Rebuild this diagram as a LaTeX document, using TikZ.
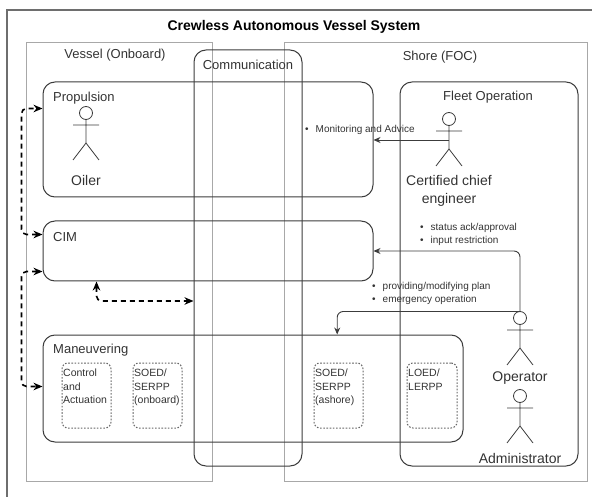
\documentclass[tikz,border=0pt]{standalone}
\usepackage{fontspec}
\setmainfont{Liberation Sans}
\usetikzlibrary{arrows.meta,calc}
\definecolor{framegray}{HTML}{6E6E6E}
\definecolor{zonegray}{HTML}{A8A8A8}
\definecolor{boxgray}{HTML}{3C3C3C}
\definecolor{textgray}{HTML}{333333}
\definecolor{partgray}{HTML}{666666}
\tikzset{
  actor/.pic={
    \draw[boxgray,line width=0.8pt] (0,0) circle[radius=6.5]
      (0,6.5) -- (0,30) (-13,12) -- (13,12) (-13,47) -- (0,30) -- (13,47);
    \coordinate (-top) at (0,-6.5);
    \coordinate (-mid) at (0,21);
  }
}
\begin{document}
\begin{tikzpicture}
  [x=1pt,y=-1pt,
   zone/.style={draw=zonegray,line width=0.8pt},
   box/.style={draw=boxgray,rounded corners=12pt,line width=1pt},
   part/.style={draw=partgray,dash pattern=on 1.6pt off 1.6pt,line width=1pt,rounded corners=6pt,minimum width=49,minimum height=65},
   lbl/.style={text=textgray,font=\fontsize{13}{15}\selectfont,inner sep=0pt},
   who/.style={text=textgray,font=\fontsize{14}{18}\selectfont,inner sep=0pt,align=center},
   note/.style={text=textgray,font=\fontsize{10}{13}\selectfont,inner sep=0pt,align=left},
   parttext/.style={text=textgray,font=\fontsize{10.5}{13.5}\selectfont,inner sep=1.5pt,align=left,anchor=north west,yshift=-5pt},
   link/.style={->,>={Stealth[length=7pt,width=6pt]},boxgray,line width=0.9pt,rounded corners=6pt},
   dashlink/.style={<->,>={Stealth[length=9pt,width=7.5pt]},black,line width=1.6pt,dash pattern=on 5pt off 4pt,rounded corners=5pt}]
  \useasboundingbox (0,0) rectangle (592,497);
  \draw[framegray,line width=1.2pt] (7,497) -- (7,10) -- (592,10);
  \node[font=\bfseries\fontsize{14}{16}\selectfont] (title) at (294,27) {Crewless Autonomous Vessel System};
  % zones
  \node[zone,minimum width=186,minimum height=439] (vessel) at (119,261.5) {};
  \node[zone,minimum width=303,minimum height=439] (shore) at (435.5,261.5) {};
  \node[lbl] (vessellbl) at (115,55) {Vessel (Onboard)};
  \node[lbl] (shorelbl) at (440,57) {Shore (FOC)};
  % functions
  \node[box,minimum width=108,minimum height=416] (comm) at (248,258) {};
  \node[box,minimum width=330,minimum height=115] (prop) at (208,139.5) {};
  \node[box,minimum width=330,minimum height=60] (cim) at (208,251) {};
  \node[box,minimum width=420,minimum height=107] (man) at (253,388.5) {};
  \node[box,minimum width=178,minimum height=384] (fleet) at (489,274) {};
  \node[lbl] (commlbl) at (248,65) {Communication};
  \node[lbl,anchor=west] (proplbl) at (53,98) {Propulsion};
  \node[lbl,anchor=west] (cimlbl) at (53,237) {CIM};
  \node[lbl,anchor=west] (manlbl) at (53,350) {Maneuvering};
  \node[lbl] (fleetlbl) at (488,97) {Fleet Operation};
  % sub-functions
  \node[part] (ctrl) at (86.5,395.5) {};
  \node[part] (soedon) at (157.5,395.5) {};
  \node[part] (soedash) at (338.5,395.5) {};
  \node[part,minimum width=50] (loed) at (432,395.5) {};
  \node[parttext] at (ctrl.north west) {Control\\and\\Actuation};
  \node[parttext] at (soedon.north west) {SOED/\\SERPP\\(onboard)};
  \node[parttext] at (soedash.north west) {SOED/\\SERPP\\(ashore)};
  \node[parttext] at (loed.north west) {LOED/\\LERPP};
  % actors
  \pic (oiler) at (86,113) {actor};
  \pic (engineer) at (449,119) {actor};
  \pic (operator) at (520,318) {actor};
  \pic (admin) at (520,396) {actor};
  \node[who] (oilerlbl) at (86,180) {Oiler};
  \node[who] (engineerlbl) at (449,191) {Certified chief\\engineer};
  \node[who] (operatorlbl) at (520,378) {Operator};
  \node[who] (adminlbl) at (520,458) {Administrator};
  % notes
  \node[note,anchor=west] (advice) at (305,130) {\textbullet\hspace{7pt}Monitoring and Advice};
  \node[note,anchor=west] (status) at (420,234.5) {\textbullet\hspace{7pt}status ack/approval\\\textbullet\hspace{7pt}input restriction};
  \node[note,anchor=west] (plan) at (372,293.5) {\textbullet\hspace{7pt}providing/modifying plan\\\textbullet\hspace{7pt}emergency operation};
  % connections
  \draw[link] (engineer-mid) -- (prop.east |- engineer-mid);
  \draw[link] (operator-top) |- (cim.east);
  \draw[link] (operator-top) -| ($(man.north west)!0.7!(man.north east)$);
  \draw[dashlink] ([yshift=-14pt]cim.north west) -- ++(-21,0) |- ([yshift=-27pt]prop.north west);
  \draw[dashlink] ([yshift=10pt]cim.south west) -- ++(-21,0) |- ([yshift=-52pt]man.north west);
  \draw[dashlink] ([xshift=54pt]cim.south west) |- ([yshift=-43pt]comm.west);
\end{tikzpicture}
\end{document}
